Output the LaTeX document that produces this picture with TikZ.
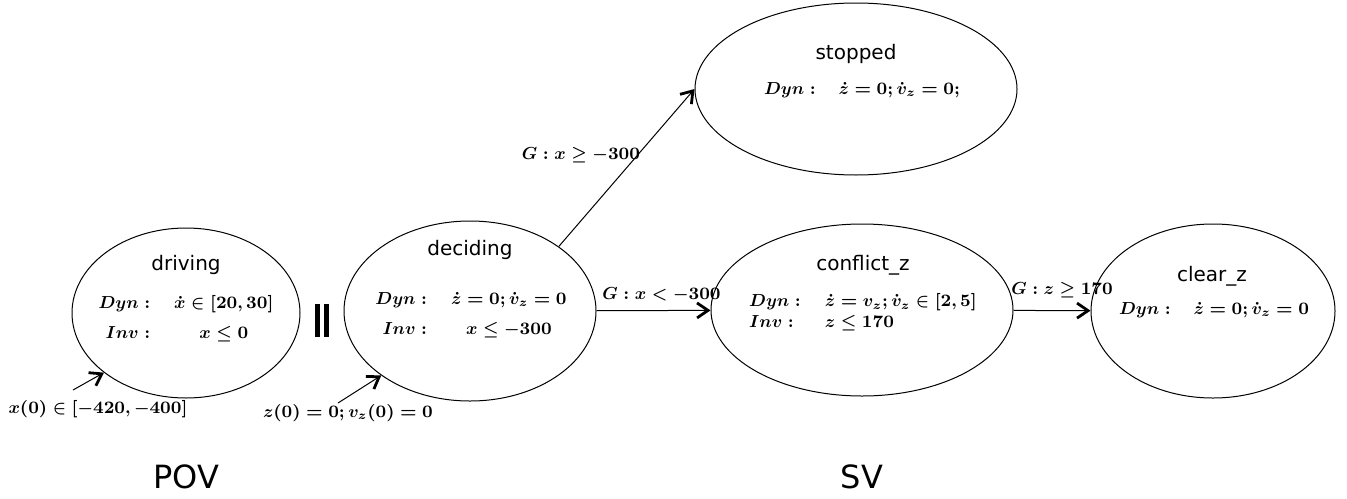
\documentclass[tikz,border=0pt]{standalone}
\usepackage{fix-cm}
\usepackage[no-math]{fontspec}
\newfontfamily\labelfont{DejaVu Sans}
\usetikzlibrary{shapes.geometric,arrows.meta}

\tikzset{
  trans/.style={-{Straight Barb[length=5.5pt,width=7.5pt,line width=1.4pt]}},
  mathtext/.style={font=\fontsize{8.7}{10.5}\selectfont\boldmath,inner sep=1pt},
  statename/.style={font=\labelfont\fontsize{10}{12}\selectfont},
}

\begin{document}
\begin{tikzpicture}[x=0.5pt,y=-0.5pt,line width=0.5pt]
        \useasboundingbox (0,0) rectangle (1347,498);

        \begin{scope}[every node/.style={ellipse,draw,inner sep=0pt}]
          \node[minimum width=114pt,minimum height=85pt] (drv)  at (186,313)  {};
          \node[minimum width=126pt,minimum height=90pt] (dec)  at (470,311)  {};
          \node[minimum width=161pt,minimum height=86pt] (stop) at (856,89)   {};
          \node[minimum width=151pt,minimum height=86pt] (conf) at (862,310)  {};
          \node[minimum width=122pt,minimum height=87pt] (clr)  at (1213,311) {};
        \end{scope}

        \begin{scope}[every node/.style={statename}]
          \node (drvname)  at (186,265)  {driving};
          \node (decname)  at (470,250)  {deciding};
          \node (stopname) at (856,54)   {stopped};
          \node (confname) at (863,265)  {conflict\_z};
          \node (clrname)  at (1212,276) {clear\_z};
        \end{scope}

        \begin{scope}[every node/.style={mathtext},every edge/.style={draw,trans}]
          \arraycolsep=6pt
          \node (drvdyn)  at (186,319)  {$\begin{array}{rc} Dyn: & \dot{x}\in[20,30]\\[4.5pt] Inv: & x\leq 0\end{array}$};
          \node (decdyn)  at (471,315)  {$\begin{array}{rc} Dyn: & \dot{z}=0;\dot{v}_z=0\\[4.5pt] Inv: & x\leq -300\end{array}$};
          \node (stopdyn) at (862,90)   {$Dyn: \quad \dot{z}=0;\dot{v}_z=0;$};
          \node (confdyn) at (863,313)  {$\begin{array}{ll} Dyn: & \dot{z}=v_z;\dot{v}_z\in[2,5]\\ Inv: & z\leq 170\end{array}$};
          \node (clrdyn)  at (1214,310) {$Dyn: \quad \dot{z}=0;\dot{v}_z=0$};

          \path (dec.36)  edge node[pos=0.58,anchor=east,inner sep=0pt,xshift=1.5pt] {$G: x\geq -300$} (stop.west);
          \path (dec)     edge node[above=3pt,xshift=4pt] {$G: x< -300$} (conf);
          \path (conf)    edge node[above=5pt,xshift=5pt] {$G: z\geq 170$} (clr);

          % initial states
          \node (drvinit) at (98,409)  {$x(0)\in[-420,-400]$};
          \node (decinit) at (348,413) {$z(0)=0;v_z(0)=0$};
          \coordinate (drvstart) at (73,390);
          \coordinate (decstart) at (338,403);
          \path (drvstart) edge (drv.216);
          \path (decstart) edge (dec.216);
        \end{scope}

        \node[inner sep=0pt] (par) at (322,320) {\rule{2.5pt}{16.5pt}\hspace{2pt}\rule{2.5pt}{16.5pt}};

        \begin{scope}[every node/.style={font=\labelfont\fontsize{16}{19}\selectfont}]
          \node (pov) at (186,477) {POV};
          \node (sv)  at (862,477) {SV};
        \end{scope}

      \end{tikzpicture}
\end{document}
